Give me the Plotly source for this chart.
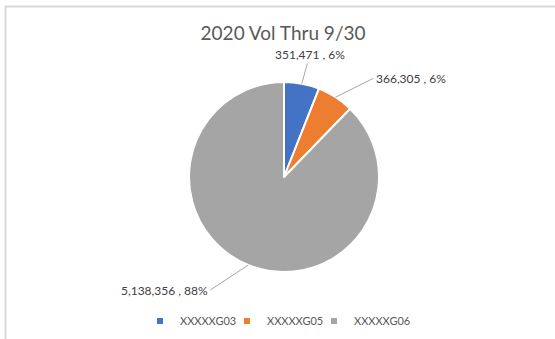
import math
import plotly.graph_objects as go

categories = ["XXXXXG03", "XXXXXG05", "XXXXXG06"]
values = [351471, 366305, 5138356]
colors = ["#4472C4", "#ED7D31", "#A5A5A5"]
label_offsets = [(8, -29, "center"), (38, -19, "left"), (-38, 25, "right")]
legend_text_x = [180, 267, 354]

W, H = 555, 339
cx, cy, r = 284, 177, 95

fig = go.Figure()
fig.add_trace(go.Pie(
    labels=categories, values=values, sort=False, direction="clockwise", rotation=0,
    marker=dict(colors=colors, line=dict(color="white", width=2)),
    textinfo="none", hoverinfo="label+value+percent", showlegend=False,
    domain=dict(x=[(cx - r) / W, (cx + r) / W], y=[1 - (cy + r) / H, 1 - (cy - r) / H]),
))

legend_layouts = {}
for i, (cat, col, tx) in enumerate(zip(categories, colors, legend_text_x)):
    key = "legend" if i == 0 else f"legend{i + 1}"
    fig.add_trace(go.Scatter(x=[None], y=[None], mode="markers", name=cat, legend=key,
                             marker=dict(symbol="square", size=6, color=col)))
    legend_layouts[key] = dict(
        orientation="h", x=(tx - 40) / W, xanchor="left", y=1 - 321 / H, yanchor="middle",
        font=dict(family="Lato", size=11, color="#595959"), itemwidth=30,
        bgcolor="rgba(0,0,0,0)",
    )

total = sum(values)
cum = 0
for v, (ax, ay, anc) in zip(values, label_offsets):
    mid = (cum + v / 2) / total * 2 * math.pi
    cum += v
    px = cx + r * math.sin(mid)
    py = cy - r * math.cos(mid)
    pct = round(v / total * 100)
    fig.add_annotation(
        x=px / W, y=1 - py / H, xref="paper", yref="paper",
        text=f"{v:,} , {pct}%", showarrow=True, arrowhead=0, arrowwidth=1,
        arrowcolor="#a6a6a6", ax=ax, ay=ay, xanchor=anc, yanchor="middle",
        font=dict(family="Lato", size=12, color="#404040"),
    )

fig.add_shape(type="rect", xref="paper", yref="paper",
              x0=5.5 / W, x1=1.2, y0=-0.2, y1=1 - 6.5 / H,
              line=dict(color="#d9d9d9", width=2))

fig.update_layout(
    width=W, height=H, margin=dict(l=0, r=0, t=0, b=0),
    paper_bgcolor="white", plot_bgcolor="white",
    title=dict(text="2020 Vol Thru 9/30", x=0.51, xanchor="center", y=1 - 33 / H, yanchor="middle",
               font=dict(family="Lato", size=19, color="#595959")),
    xaxis=dict(visible=False), yaxis=dict(visible=False),
    font=dict(family="Lato"),
    **legend_layouts,
)

fig.write_html("out.html")
